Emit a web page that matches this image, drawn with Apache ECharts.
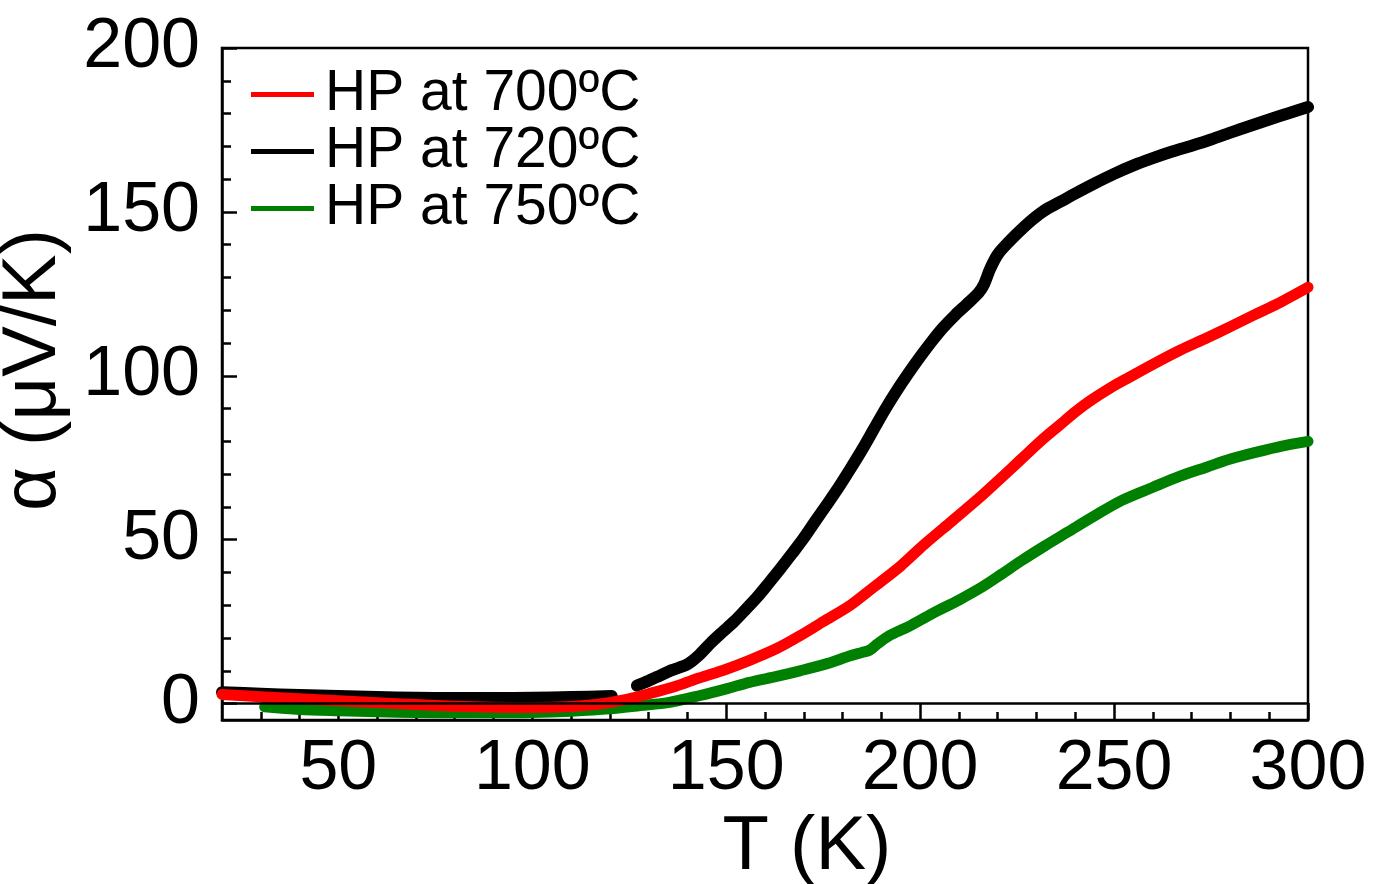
<!DOCTYPE html>
<html>
<head>
<meta charset="utf-8">
<script src="https://cdn.jsdelivr.net/npm/echarts@6/dist/echarts.min.js"></script>
<style>html,body{margin:0;padding:0;background:#fff}#c{width:1375px;height:884px}</style>
</head>
<body>
<div id="c"></div>
<script>
// ---- data ----
const seriesNames = ['HP at 700ºC', 'HP at 720ºC', 'HP at 750ºC'];
const xMajorTicks = [50, 100, 150, 200, 250, 300];
const xMinorTicks = [30, 40, 60, 70, 80, 90, 110, 120, 130, 140, 160, 170, 180, 190, 210, 220, 230, 240, 260, 270, 280, 290];
const yMajorTicks = [0, 50, 100, 150, 200];
const yMinorTicks = [10, 20, 30, 40, 60, 70, 80, 90, 110, 120, 130, 140, 160, 170, 180, 190];

const redT = [20, 30, 40, 50, 60, 70, 80, 90, 100, 110, 117, 124, 130, 137, 143, 150, 156, 163, 169, 175, 182, 188, 195, 201, 208, 215, 221, 226, 231, 236, 240, 244, 249, 254, 260, 267, 274, 280, 286, 293, 300];
const redV = [2.8, 2.1, 1.5, 0.9, 0.3, -0.3, -0.8, -1.1, -1.2, -0.9, -0.2, 1.2, 3.0, 5.3, 7.8, 10.5, 13.2, 16.8, 20.7, 25, 30, 35.5, 42, 48.5, 55.5, 62.5, 69, 74.5, 80, 85, 89, 92.5, 96.3, 99.6, 103.5, 107.8, 111.6, 115, 118.5, 122.5, 127];

const blackT = [20, 30, 40, 50, 60, 70, 80, 90, 100, 110, 120.5, 123, 127, 130, 133, 136, 140, 143, 146, 149, 152, 155, 158, 161, 164, 167, 170, 173, 176, 179, 182, 185, 188, 191, 194, 197, 200, 203, 206, 209, 212, 215, 216.5, 218, 220, 223, 226, 229, 232, 236, 240, 245, 250, 255, 260, 265, 270, 275, 280, 285, 290, 295, 300];
const blackV = [3.5, 3.0, 2.6, 2.3, 2.0, 1.8, 1.7, 1.7, 1.8, 2.0, 2.3, null, 5.5, 7.0, 8.6, 10.2, 12.0, 14.8, 18.5, 21.8, 25, 28.7, 32.5, 36.8, 41.2, 45.8, 50.5, 55.7, 60.8, 66, 71.6, 77.4, 83.6, 89.8, 95.5, 100.8, 105.8, 110.5, 114.8, 118.5, 121.8, 125.2, 128, 132.5, 137, 141, 144.5, 147.7, 150.4, 153, 155.6, 158.7, 161.6, 164.2, 166.4, 168.4, 170.2, 172.1, 174.2, 176.2, 178.2, 180.1, 182];

const greenT = [31, 40, 50, 60, 70, 80, 90, 100, 110, 120, 128, 135, 143, 150, 156, 163, 169, 176, 182, 185, 187, 189, 192, 197, 203, 210, 216, 221, 226, 232, 238, 245, 252, 260, 267, 274, 280, 287, 293, 300];
const greenV = [-1.0, -1.8, -2.2, -2.5, -2.7, -2.8, -2.8, -2.7, -2.3, -1.6, -0.6, 0.3, 2.4, 4.5, 6.5, 8.3, 10, 12.2, 14.6, 15.6, 16.3, 18.2, 20.7, 23.5, 27.4, 31.6, 35.6, 39.5, 43.5, 48, 52.3, 57.3, 62, 66, 69.4, 72.2, 74.6, 76.8, 78.5, 80];

const zip = (a, b) => a.map((t, i) => [t, b[i]]);

const FONT = '"Liberation Sans", Arial, sans-serif';
const X_MIN = 20, X_MAX = 300, Y_MIN = -5, Y_MAX = 200;

const chart = echarts.init(document.getElementById('c'), null, {renderer: 'canvas'});
chart.setOption({
  animation: false,
  backgroundColor: '#fff',
  grid: {left: 222, top: 48, right: 67, bottom: 164, show: true, borderColor: '#000', borderWidth: 2.5,
         backgroundColor: 'transparent', containLabel: false, outerBoundsMode: 'none'},
  legend: {
    data: seriesNames,
    orient: 'vertical',
    left: 246, top: 61,
    icon: 'rect',
    itemWidth: 63, itemHeight: 5,
    itemGap: 0,
    textStyle: {fontFamily: FONT, fontSize: 57, color: '#000', lineHeight: 57, padding: [0, 0, 0, 6]}
  },
  xAxis: [{
    type: 'value', min: X_MIN, max: X_MAX, position: 'bottom',
    name: 'T (K)', nameLocation: 'middle', nameGap: 84,
    nameTextStyle: {fontFamily: FONT, fontSize: 76, color: '#000', lineHeight: 76, padding: [0, 0, 0, 84]},
    axisLine: {onZero: false, lineStyle: {color: '#000', width: 2.5}},
    axisTick: {inside: true, length: 17, lineStyle: {color: '#000', width: 2.5}, customValues: xMajorTicks},
    axisLabel: {customValues: xMajorTicks, margin: 15, fontFamily: FONT, fontSize: 70, color: '#000', lineHeight: 70},
    splitLine: {show: false}
  }, {
    type: 'value', min: X_MIN, max: X_MAX, position: 'bottom',
    axisLine: {show: false, onZero: false},
    axisTick: {inside: true, length: 8, lineStyle: {color: '#000', width: 2.5}, customValues: xMinorTicks},
    axisLabel: {show: false},
    splitLine: {show: false}
  }],
  yAxis: [{
    type: 'value', min: Y_MIN, max: Y_MAX, position: 'left',
    name: 'α (μV/K)', nameLocation: 'middle', nameGap: 140,
    nameTextStyle: {fontFamily: FONT, fontSize: 76, color: '#000', lineHeight: 76, padding: [0, 0, 0, 28]},
    axisLine: {onZero: false, lineStyle: {color: '#000', width: 2.5}},
    axisTick: {inside: true, length: 15, lineStyle: {color: '#000', width: 2.5}, customValues: yMajorTicks},
    axisLabel: {customValues: yMajorTicks, margin: 22, fontFamily: FONT, fontSize: 70, color: '#000'},
    splitLine: {show: false}
  }, {
    type: 'value', min: Y_MIN, max: Y_MAX, position: 'left',
    axisLine: {show: false, onZero: false},
    axisTick: {inside: true, length: 9, lineStyle: {color: '#000', width: 2.5}, customValues: yMinorTicks},
    axisLabel: {show: false},
    splitLine: {show: false}
  }],
  series: [{
    name: seriesNames[1], type: 'line', data: zip(blackT, blackV), connectNulls: false,
    showSymbol: false, smooth: 0.3, z: 2,
    itemStyle: {color: '#000'},
    lineStyle: {color: '#000', width: 12, cap: 'round', join: 'round'}
  }, {
    name: seriesNames[2], type: 'line', data: zip(greenT, greenV),
    showSymbol: false, smooth: 0.3, z: 3,
    itemStyle: {color: '#008000'},
    lineStyle: {color: '#008000', width: 11, cap: 'round', join: 'round'}
  }, {
    name: seriesNames[0], type: 'line', data: zip(redT, redV),
    showSymbol: false, smooth: 0.3, z: 4,
    itemStyle: {color: '#ff0000'},
    lineStyle: {color: '#ff0000', width: 11, cap: 'round', join: 'round'},
    markLine: {
      silent: true, symbol: ['none', 'none'], label: {show: false}, z: 10,
      lineStyle: {color: '#000', width: 2.5, type: 'solid'},
      data: [{yAxis: 0}]
    }
  }]
});
</script>
</body>
</html>
